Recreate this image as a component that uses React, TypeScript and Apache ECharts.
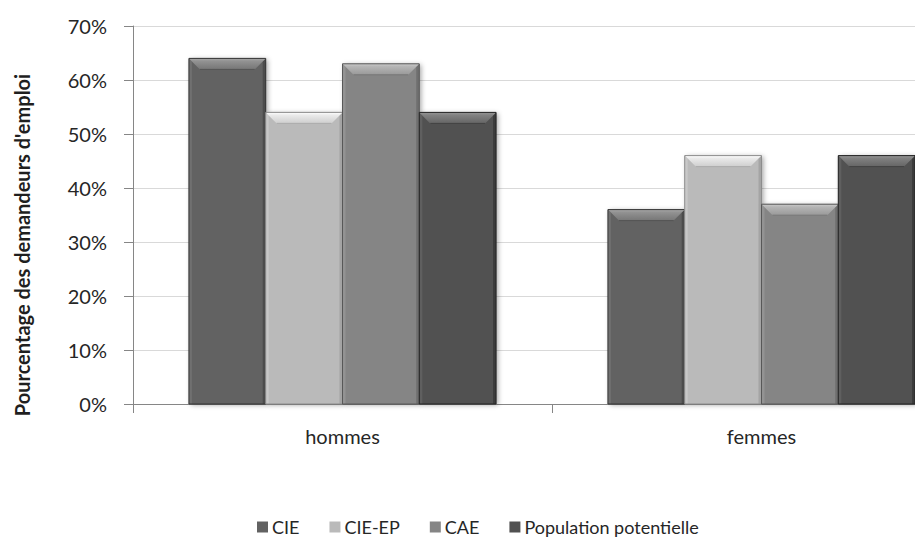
import React, { useEffect, useRef } from "react";
import * as echarts from "echarts";

// Categories and series values (share of job seekers)
const categories = ["hommes", "femmes"];
const seriesNames = ["CIE", "CIE-EP", "CAE", "Population potentielle"];
const cieValues = [0.64, 0.36];
const cieEpValues = [0.54, 0.46];
const caeValues = [0.63, 0.37];
const populationValues = [0.54, 0.46];
const yTicks = { min: 0, max: 0.7, interval: 0.1 };

const seriesValues = [cieValues, cieEpValues, caeValues, populationValues];
const baseColors = ["#626262", "#bababa", "#858585", "#515151"];

const FONT = "Lato, 'Open Sans', 'Noto Sans', sans-serif";
const CATEGORY_GAP = 0.267;

// The drawing surface is wider than the visible frame so the plot runs past its right edge
const VIEW_W = 915;
const VIEW_H = 554;
const CANVAS_W = 1000;

function shade(hex: string, amt: number): string {
  const n = parseInt(hex.slice(1), 16);
  const clamp = (v: number) => Math.max(0, Math.min(255, Math.round(v)));
  const r = clamp(((n >> 16) & 255) + amt);
  const g = clamp(((n >> 8) & 255) + amt);
  const b = clamp((n & 255) + amt);
  return `rgb(${r},${g},${b})`;
}

// Bevel overlay drawn on top of each bar, located from the same band maths the bars use
function bevelRenderer(idx: number) {
  const base = baseColors[idx];
  return (params: any, api: any) => {
    const cat = api.value(0);
    const v = api.value(1);
    const bottom = api.coord([cat, 0]);
    const top = api.coord([cat, v]);
    const band = api.size([1, 0])[0];
    const group = band * (1 - CATEGORY_GAP);
    const w = group / seriesNames.length;
    const x0 = bottom[0] - group / 2 + idx * w;
    const x1 = x0 + w;
    const y0 = top[1];
    const y1 = bottom[1];
    const b = 11;
    const s = 3;
    return {
      type: "group",
      children: [
        {
          type: "polygon",
          shape: { points: [[x0, y0], [x0 + s, y0 + s], [x0 + s, y1], [x0, y1]] },
          style: { fill: shade(base, 14) },
        },
        {
          type: "polygon",
          shape: { points: [[x1, y0], [x1 - s, y0 + s], [x1 - s, y1], [x1, y1]] },
          style: { fill: shade(base, -22) },
        },
        {
          type: "polygon",
          shape: { points: [[x0, y0], [x1, y0], [x1 - b, y0 + b], [x0 + b, y0 + b]] },
          style: {
            fill: new echarts.graphic.LinearGradient(0, 0, 0, 1, [
              { offset: 0, color: shade(base, 70) },
              { offset: 0.25, color: shade(base, 48) },
              { offset: 1, color: shade(base, 20) },
            ]),
          },
        },
        {
          type: "line",
          shape: { x1: x0 + b, y1: y0 + b, x2: x1 - b, y2: y0 + b },
          style: { stroke: shade(base, -14), lineWidth: 1 },
        },
        {
          type: "rect",
          shape: { x: x0, y: y0, width: w, height: y1 - y0 },
          style: { fill: "none", stroke: shade(base, -45), lineWidth: 1 },
        },
      ],
    };
  };
}

export default function App() {
  const ref = useRef<HTMLDivElement>(null);

  useEffect(() => {
    if (!ref.current) return;
    const chart = echarts.init(ref.current, undefined, { renderer: "svg" });

    const barSeries = seriesNames.map((name, i) => ({
      name,
      type: "bar",
      data: seriesValues[i],
      barGap: "0%",
      barCategoryGap: `${CATEGORY_GAP * 100}%`,
      itemStyle: {
        color: baseColors[i],
        shadowBlur: 5,
        shadowColor: "rgba(0,0,0,0.35)",
        shadowOffsetX: 2,
        shadowOffsetY: 1,
      },
      z: 2,
    }));

    const bevelSeries = seriesNames.map((name, i) => ({
      name: `${name}-bevel`,
      type: "custom",
      renderItem: bevelRenderer(i),
      data: seriesValues[i].map((v, c) => [c, v]),
      silent: true,
      z: 3,
    }));

    chart.setOption({
      animation: false,
      backgroundColor: "#ffffff",
      textStyle: { fontFamily: FONT },
      grid: { left: 133, top: 26, right: CANVAS_W - 971, bottom: 150, containLabel: false },
      legend: {
        data: seriesNames,
        left: 252,
        top: 513,
        icon: "rect",
        itemWidth: 11,
        itemHeight: 11,
        itemGap: 30,
        textStyle: { fontFamily: FONT, fontSize: 18, color: "#262626", padding: [0, 0, 0, -1] },
      },
      graphic: [
        {
          type: "text",
          x: 22,
          y: 245,
          rotation: Math.PI / 2,
          style: {
            text: "Pourcentage des demandeurs d'emploi",
            fontFamily: FONT,
            fontSize: 20,
            fontWeight: "bold",
            fill: "#1f1f1f",
            textAlign: "center",
            textVerticalAlign: "middle",
          },
        },
      ],
      xAxis: {
        type: "category",
        data: categories,
        axisLine: { lineStyle: { color: "#868686" } },
        axisTick: { show: true, length: 9, lineStyle: { color: "#868686" } },
        axisLabel: { fontFamily: FONT, fontSize: 20, color: "#262626", margin: 22 },
      },
      yAxis: {
        type: "value",
        min: yTicks.min,
        max: yTicks.max,
        interval: yTicks.interval,
        axisLine: { show: true, lineStyle: { color: "#868686" } },
        axisTick: { show: true, length: 9, lineStyle: { color: "#868686" } },
        splitLine: { lineStyle: { color: "#d9d9d9" } },
        axisLabel: {
          fontFamily: FONT,
          fontSize: 20,
          color: "#262626",
          margin: 26,
          formatter: (v: number) => `${Math.round(v * 100)}%`,
        },
      },
      series: [...barSeries, ...bevelSeries],
    });

    return () => chart.dispose();
  }, []);

  return (
    <div
      style={{
        position: "absolute",
        left: 0,
        top: 0,
        width: VIEW_W,
        height: VIEW_H,
        overflow: "hidden",
        background: "#ffffff",
      }}
    >
      <div ref={ref} style={{ width: CANVAS_W, height: VIEW_H }} />
    </div>
  );
}
